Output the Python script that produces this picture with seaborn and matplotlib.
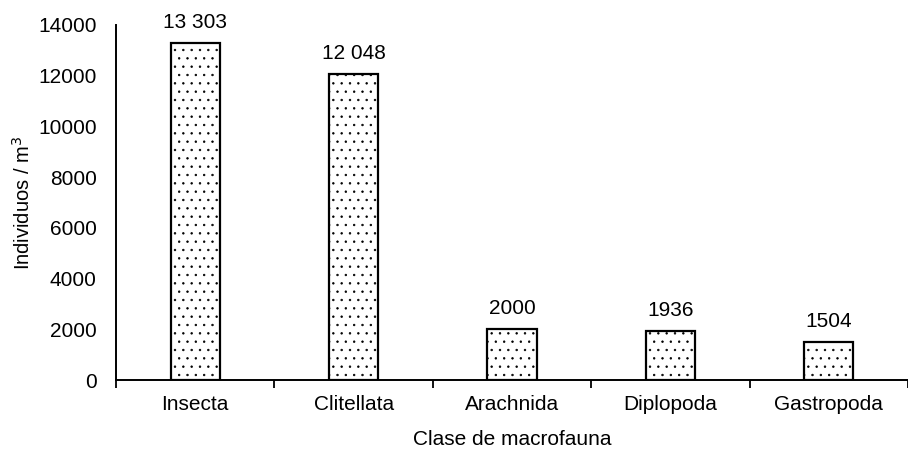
import matplotlib
matplotlib.use("Agg")
import matplotlib.pyplot as plt
import seaborn as sns
import pandas as pd
import numpy as np

clases = ["Insecta", "Clitellata", "Arachnida", "Diplopoda", "Gastropoda"]
individuos = [13303, 12048, 2000, 1936, 1504]
etiquetas = ["13 303", "12 048", "2000", "1936", "1504"]
y_ticks = [0, 2000, 4000, 6000, 8000, 10000, 12000, 14000]

sns.set_style("white")
plt.rcParams["font.family"] = ["Liberation Sans", "DejaVu Sans"]
plt.rcParams["hatch.linewidth"] = 0.5
plt.rcParams["hatch.color"] = "black"
plt.rcParams["text.color"] = "black"
plt.rcParams["axes.labelcolor"] = "black"
plt.rcParams["xtick.color"] = "black"
plt.rcParams["ytick.color"] = "black"

FS = 15

df = pd.DataFrame({"clase": clases, "valor": individuos})

fig = plt.figure(figsize=(9.08, 4.51), dpi=100)
ax = fig.add_axes([116 / 908, 1 - 380 / 451, 1 - 116 / 908, (380 - 25) / 451])

sns.barplot(data=df, x="clase", y="valor", order=clases, color="white",
            edgecolor="black", linewidth=1.6, width=0.31, ax=ax, saturation=1)
for p in ax.patches:
    p.set_hatch("..")
    p.set_facecolor("white")

for i, (v, t) in enumerate(zip(individuos, etiquetas)):
    ax.annotate(t, (i, v), xytext=(0, 8), textcoords="offset points",
                ha="center", va="bottom", fontsize=FS)

ax.set_ylim(0, 14000)
ax.set_xlim(-0.5, -0.5 + (908 - 116) / 160)
ax.set_yticks(y_ticks)
ax.set_yticklabels([str(v) for v in y_ticks], fontsize=FS)
ax.set_xticks(range(len(clases)))
ax.set_xticklabels(clases, fontsize=FS)
ax.set_xticks(np.arange(-0.5, len(clases), 1.0), minor=True)
ax.tick_params(axis="x", which="major", length=0, pad=11)
ax.tick_params(axis="x", which="minor", length=6, width=1.3, color="black", direction="out")
ax.tick_params(axis="y", length=7, width=1.3, color="black", direction="out", pad=7)
ax.xaxis.set_tick_params(which="minor", bottom=True)

for s in ["top", "right"]:
    ax.spines[s].set_visible(False)
for s in ["left", "bottom"]:
    ax.spines[s].set_color("black")
    ax.spines[s].set_linewidth(1.4)

ax.set_xlabel("Clase de macrofauna", fontsize=FS, labelpad=11)
ax.set_ylabel("Individuos / m$^3$", fontsize=14.5, labelpad=3)

fig.savefig("out.png", dpi=100)
